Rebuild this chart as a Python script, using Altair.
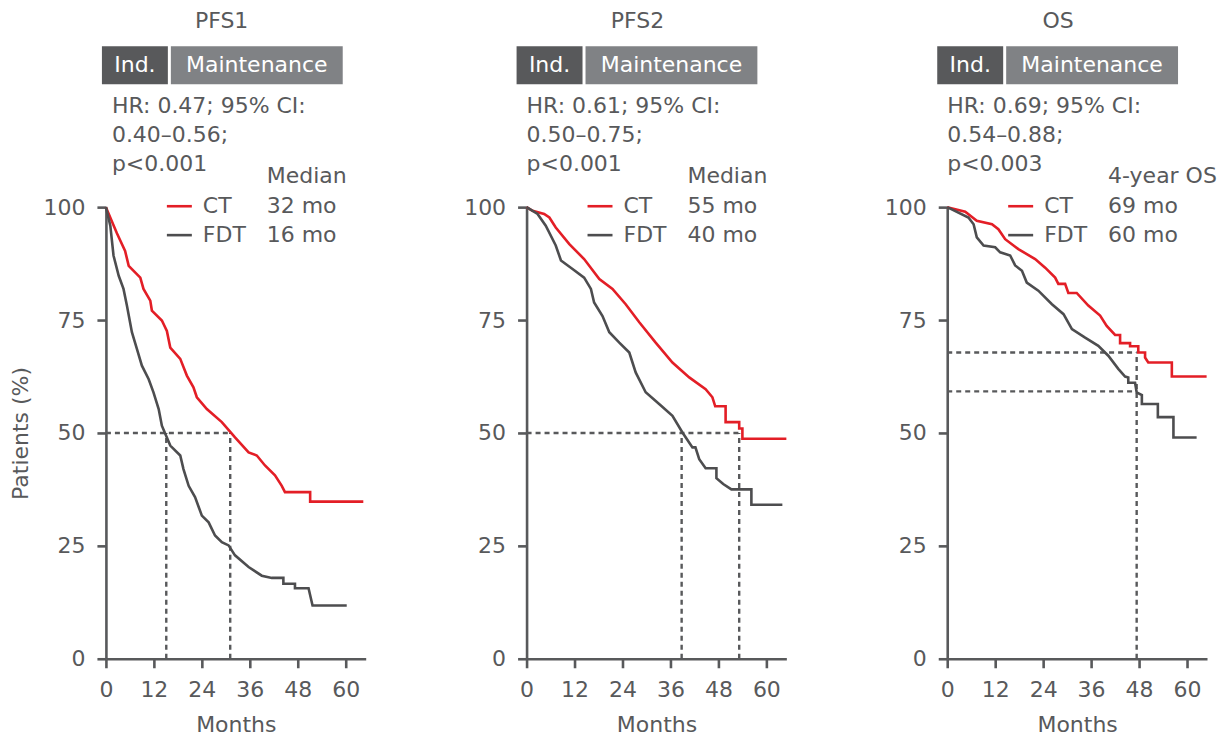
import altair as alt
import pandas as pd

FONT = "DejaVu Sans"
GREY = "#58595b"
RED = "#e31e26"
DARK = "#4d4d4f"
BOX_IND = "#58595b"
BOX_MAINT = "#808285"
FS = 22

# ---------------- data ----------------
titles = ["PFS1", "PFS2", "OS"]
hr_lines = [
    ["HR: 0.47; 95% CI:", "0.40–0.56;", "p<0.001"],
    ["HR: 0.61; 95% CI:", "0.50–0.75;", "p<0.001"],
    ["HR: 0.69; 95% CI:", "0.54–0.88;", "p<0.003"],
]
headers = ["Median", "Median", "4-year OS"]
ct_values = ["32 mo", "55 mo", "69 mo"]
fdt_values = ["16 mo", "40 mo", "60 mo"]
series_names = ["CT", "FDT"]

pfs1_ct_m = [0, 2.75, 4.8, 5.7, 8.6, 9.4, 11.1, 11.5, 14, 15.25, 16.1, 18.6, 20.25, 21.9, 22.75, 25.25, 29, 32.3,
             35.7, 37.75, 39.8, 42.3, 44, 44.8, 51.1, 51.1, 64.4]
pfs1_ct_p = [100, 94.2, 90.3, 87, 84.4, 81.9, 79.3, 77.1, 74.9, 72.6, 68.9, 66.4, 62.7, 60.1, 57.9, 55.3, 52.4, 49,
             45.7, 45, 42.8, 40.6, 38.3, 36.9, 36.9, 34.8, 34.8]
pfs1_fdt_m = [0, 1.1, 1.9, 3.2, 4.4, 5.25, 6.5, 7.75, 9, 10.7, 11.9, 13.2, 14, 15.25, 16.1, 18.6, 19.4, 20.7, 22.3,
              24, 25.7, 27.3, 29, 30.7, 32.3, 35.7, 39, 41.5, 44.4, 44.4, 47.3, 47.3, 50.7, 51.7, 60.25]
pfs1_fdt_p = [100, 95.9, 89.3, 84.8, 81.9, 78.2, 72.3, 68.6, 64.9, 61.9, 59, 55.3, 51.6, 49, 47.2, 45, 42, 38.3, 35.8,
              31.7, 30.2, 27.3, 25.8, 25.1, 22.9, 20.3, 18.4, 17.9, 17.9, 16.6, 16.6, 15.6, 15.6, 11.8, 11.8]

pfs2_ct_m = [0, 1.5, 4.4, 5.7, 7.3, 10.7, 14.4, 18.2, 21.5, 24.8, 28.2, 32.3, 36.5, 40.7, 44.8, 46.5, 47.2, 49.8,
             49.8, 53.2, 53.2, 54, 54, 65]
pfs2_ct_p = [100, 99.2, 98.5, 97.7, 95.5, 91.8, 88.5, 84.1, 81.9, 78.5, 74.5, 70, 65.6, 62.3, 59.7, 57.9, 55.9, 55.9,
             52.4, 52.4, 51, 51, 48.7, 48.7]
pfs2_fdt_m = [0, 2.75, 4.8, 7.3, 8.6, 11.5, 14.4, 16.1, 16.9, 19, 20.7, 23.2, 25.7, 27.3, 29.8, 33.6, 36.5, 39,
              41.5, 42.25, 43.2, 44.8, 47.5, 47.5, 49.2, 51.25, 56.25, 56.25, 64]
pfs2_fdt_p = [100, 98.5, 95.9, 91.5, 88.2, 86.3, 84.4, 81.9, 78.9, 75.9, 72.3, 70, 67.8, 63.4, 59, 56.1, 53.8, 50.1,
              46.8, 46.8, 44.2, 42.2, 42.2, 40, 38.7, 37.5, 37.5, 34.1, 34.1]

os_ct_m = [0, 4.5, 7.4, 11.2, 12.8, 14.5, 17.8, 22, 24.5, 27, 27.8, 29.5, 30.3, 32.4, 35.3, 38.25, 39.9, 42, 43.25,
           43.25, 45.75, 45.75, 47.8, 47.8, 49.5, 49.5, 50.3, 56.2, 56.2, 64.9]
os_ct_p = [100, 99, 97, 96.2, 95.1, 92.9, 90.7, 88.5, 86.6, 84.4, 83, 83, 81, 81, 78.2, 76, 73.7, 71.7, 71.7,
           69.9, 69.9, 69.2, 69.2, 67.8, 67.8, 66.7, 65.6, 65.6, 62.5, 62.5]
os_fdt_m = [0, 5.3, 6.6, 7.4, 9.1, 12, 13.25, 15.75, 17, 18.7, 19.9, 22.8, 26.2, 29.1, 31.2, 34.5, 37.8, 40.3, 42.8,
            44.5, 45.3, 45.3, 47, 47.4, 48.7, 48.7, 52.7, 52.7, 56.6, 56.6, 62.4]
os_fdt_p = [100, 97.7, 96.2, 93.3, 91.5, 91.1, 90, 89.3, 87.1, 85.9, 83.3, 81.5, 78.5, 76.3, 73, 71.1, 69.3, 67.1,
            64.2, 62.5, 62.3, 61.1, 61.1, 59, 58.4, 56.4, 56.4, 53.5, 53.5, 49, 49]

curves = [
    ((pfs1_ct_m, pfs1_ct_p), (pfs1_fdt_m, pfs1_fdt_p)),
    ((pfs2_ct_m, pfs2_ct_p), (pfs2_fdt_m, pfs2_fdt_p)),
    ((os_ct_m, os_ct_p), (os_fdt_m, os_fdt_p)),
]

# reference (dashed) lines: median / landmark readings
pfs1_medians = [15.1, 31.1]
pfs2_medians = [38.8, 53.2]
os_landmark = 47.4
os_rates = [67.8, 59.2]

# ---------------- layout constants (months / percent units) ----------------
X_DOMAIN = [0, 65]
Y_DOMAIN = [0, 100]
W, H = 260, 452
panel_shift = [1.5, 0, 0]
Y_TITLE, Y_BOX0, Y_BOX1, Y_BOXTXT = 141.2, 127.2, 135.6, 131.4
Y_HR = [122.3, 115.9, 109.5]
Y_HEAD = 106.9
Y_LEG = [100.2, 93.8]
X_LEG0, X_LEG1, X_LEGTXT, X_VAL = 15.25, 21.5, 24.25, 40.25

xs = alt.Scale(domain=X_DOMAIN, nice=False, zero=False)
ys = alt.Scale(domain=Y_DOMAIN, nice=False)


def dashed_segments(i):
    if i == 0:
        a, b = pfs1_medians
        return [(0, b, 50, 50), (a, a, 0, 50), (b, b, 0, 50)]
    if i == 1:
        a, b = pfs2_medians
        return [(0, b, 50, 50), (a, a, 0, 50), (b, b, 0, 50)]
    return [(0, os_landmark, os_rates[0], os_rates[0]), (0, os_landmark, os_rates[1], os_rates[1]),
            (os_landmark, os_landmark, 0, os_rates[0])]


def make_panel(i):
    xaxis = alt.Axis(values=[0, 12, 24, 36, 48, 60], title="Months", labelFlush=False)
    yaxis = alt.Axis(values=[0, 25, 50, 75, 100], title="Patients (%)" if i == 0 else "", labelFlush=False)

    def X(f):
        return alt.X(f, type="quantitative", scale=xs, axis=xaxis)

    def Y(f):
        return alt.Y(f, type="quantitative", scale=ys, axis=yaxis)

    rows = []
    for s, (mm, pp) in zip(series_names, curves[i]):
        for k, (m, p) in enumerate(zip(mm, pp)):
            rows.append({"m": m, "p": p, "s": s, "k": k})
    df_lines = pd.DataFrame(rows)

    lines = alt.Chart(df_lines).mark_line(strokeWidth=2.6, strokeJoin="miter").encode(
        x=X("m"), y=Y("p"),
        color=alt.Color("s:N", scale=alt.Scale(domain=series_names, range=[RED, DARK]), legend=None),
        order="k:Q",
        detail="s:N",
    )

    df_dash = pd.DataFrame([{"m": a, "m2": b, "p": c, "p2": d} for a, b, c, d in dashed_segments(i)])
    dashes = alt.Chart(df_dash).mark_rule(strokeWidth=2.4, strokeDash=[5, 4], color=GREY).encode(
        x=X("m"), x2="m2", y=Y("p"), y2="p2")

    sh = panel_shift[i]
    df_box = pd.DataFrame([
        {"m": -2.5 + sh, "m2": 14 + sh, "p": Y_BOX0, "p2": Y_BOX1, "c": BOX_IND},
        {"m": 14.75 + sh, "m2": 57.75 + sh, "p": Y_BOX0, "p2": Y_BOX1, "c": BOX_MAINT},
    ])
    boxes = alt.Chart(df_box).mark_rect().encode(
        x=X("m"), x2="m2", y=Y("p"), y2="p2", color=alt.Color("c:N", scale=None))

    df_boxtxt = pd.DataFrame([
        {"m": 5.75 + sh, "p": Y_BOXTXT, "t": "Ind."},
        {"m": 36.25 + sh, "p": Y_BOXTXT, "t": "Maintenance"},
    ])
    boxtxt = alt.Chart(df_boxtxt).mark_text(font=FONT, fontSize=FS, color="white", align="center",
                                            baseline="middle").encode(x=X("m"), y=Y("p"), text="t:N")

    df_title = pd.DataFrame([{"m": 27.75 + sh * 0.8, "p": Y_TITLE, "t": titles[i]}])
    title = alt.Chart(df_title).mark_text(font=FONT, fontSize=FS, color=GREY, align="center",
                                          baseline="middle").encode(x=X("m"), y=Y("p"), text="t:N")

    left_rows = [{"m": sh, "p": y, "t": t} for y, t in zip(Y_HR, hr_lines[i])]
    left_rows.append({"m": X_VAL, "p": Y_HEAD, "t": headers[i]})
    for y, nm, val in zip(Y_LEG, series_names, [ct_values[i], fdt_values[i]]):
        left_rows.append({"m": X_LEGTXT, "p": y, "t": nm})
        left_rows.append({"m": X_VAL, "p": y, "t": val})
    df_left = pd.DataFrame(left_rows)
    lefttxt = alt.Chart(df_left).mark_text(font=FONT, fontSize=FS, color=GREY, align="left",
                                           baseline="middle").encode(x=X("m"), y=Y("p"), text="t:N")

    df_leg = pd.DataFrame([{"m": X_LEG0, "m2": X_LEG1, "p": y, "s": s} for y, s in zip(Y_LEG, series_names)])
    leg = alt.Chart(df_leg).mark_rule(strokeWidth=2.6).encode(
        x=X("m"), x2="m2", y=Y("p"),
        color=alt.Color("s:N", scale=alt.Scale(domain=series_names, range=[RED, DARK]), legend=None))

    return alt.layer(dashes, lines, boxes, boxtxt, title, lefttxt, leg).properties(width=W, height=H)


chart = alt.hconcat(make_panel(0), make_panel(1), make_panel(2), spacing=161, bounds="flush").properties(
    padding={"left": 2, "top": 1, "right": 2, "bottom": 2}
).configure_view(stroke=None).configure_axis(
    grid=False,
    domainColor=GREY, domainWidth=2.6, tickColor=GREY, tickWidth=2.6, tickSize=9,
    labelColor=GREY, labelFont=FONT, labelFontSize=FS, labelPadding=12,
    titleColor=GREY, titleFont=FONT, titleFontSize=FS, titleFontWeight="normal",
).configure_axisX(titlePadding=14).configure_axisY(titlePadding=10)

chart.save("out.html", embed_options={"renderer": "svg", "actions": False})
